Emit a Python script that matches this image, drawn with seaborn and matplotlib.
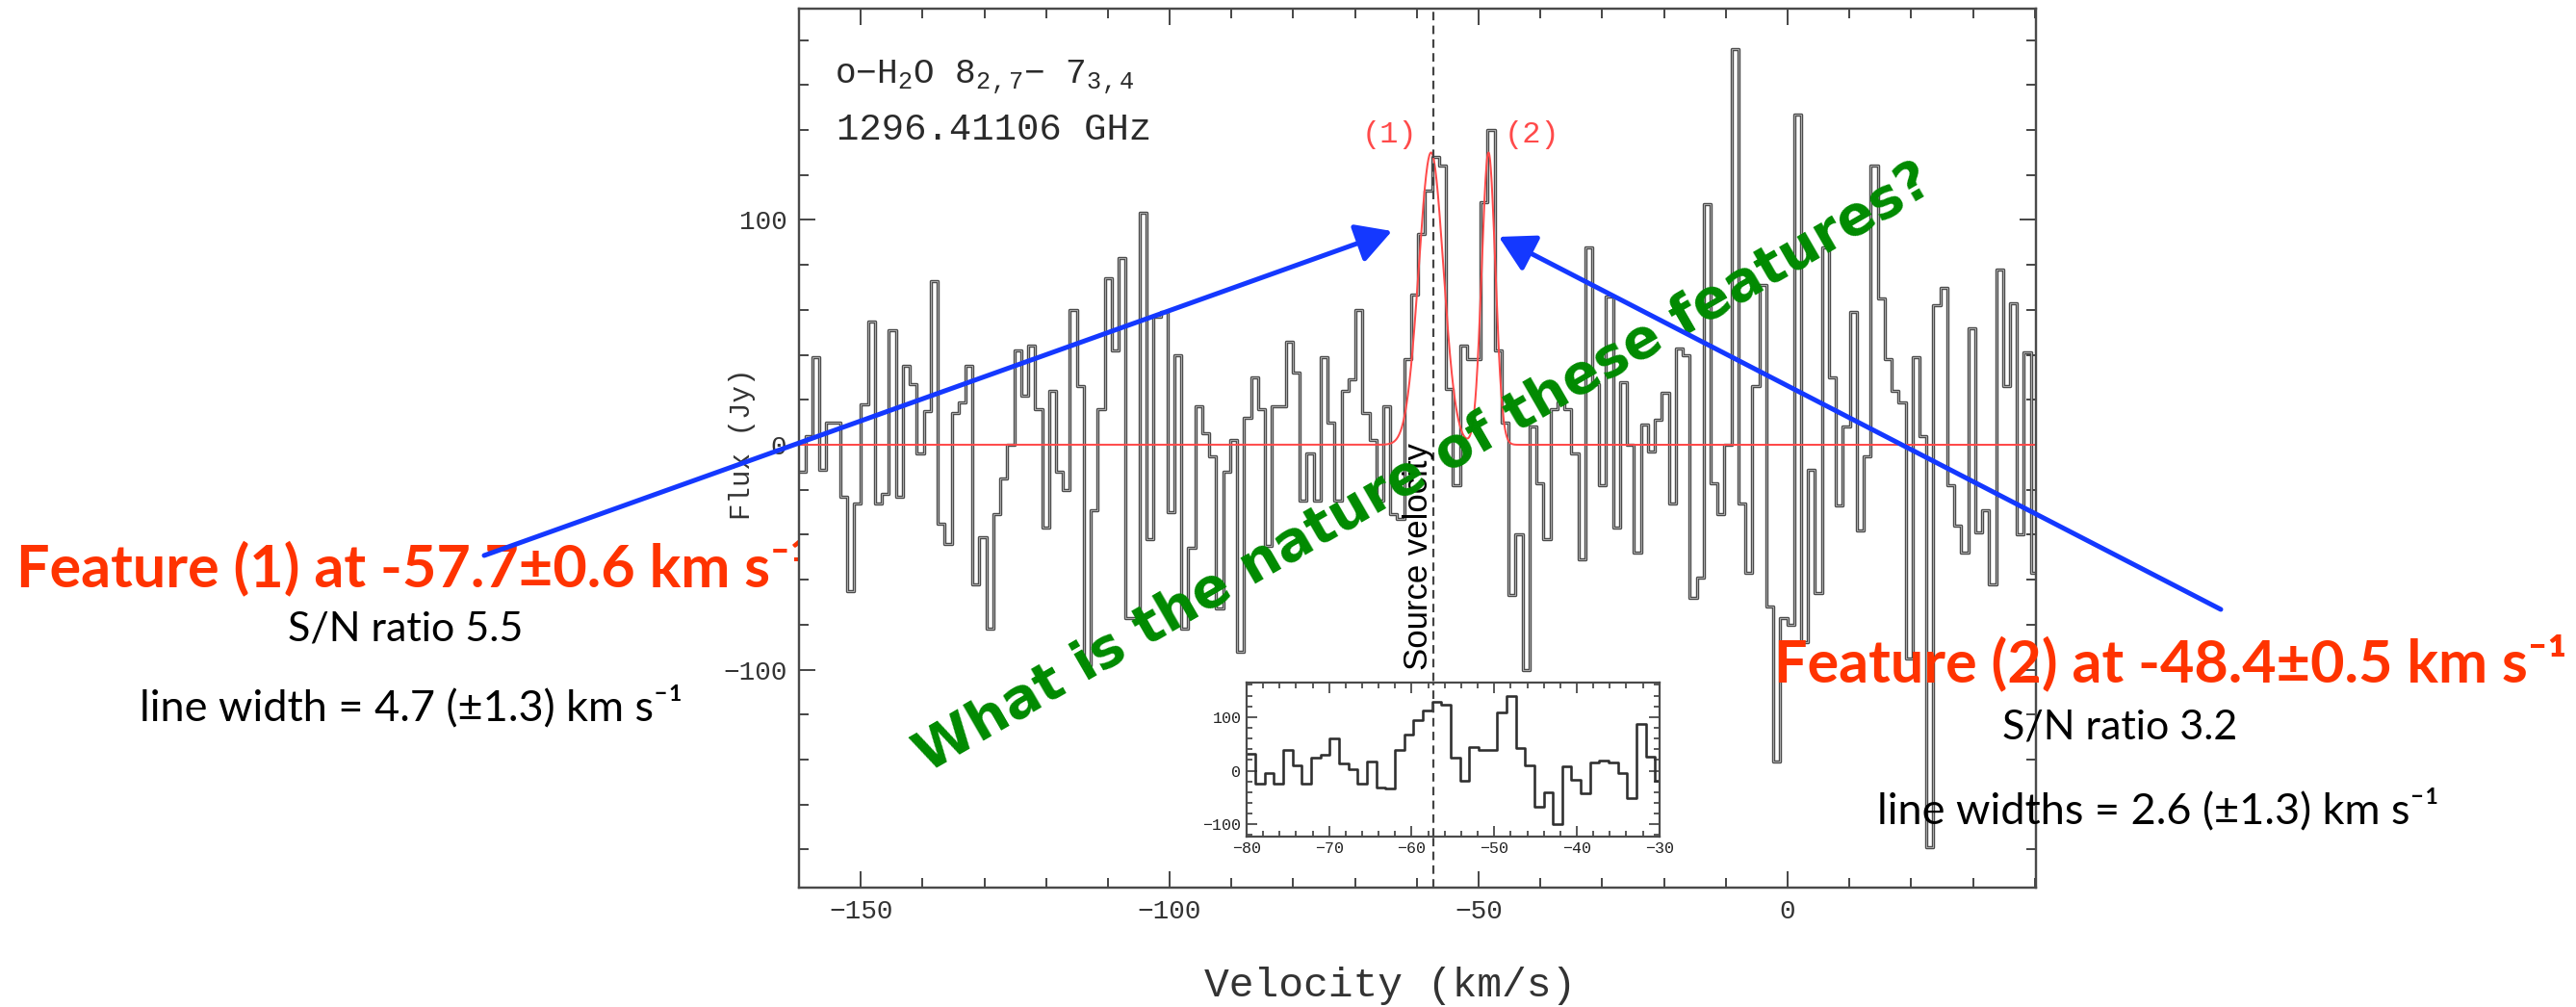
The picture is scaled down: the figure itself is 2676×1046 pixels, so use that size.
import numpy as np
import pandas as pd
import matplotlib
matplotlib.use("Agg")
import matplotlib.pyplot as plt
import matplotlib.patheffects as pe
import seaborn as sns
from matplotlib.ticker import MultipleLocator
from matplotlib.patches import FancyArrowPatch

# ---------------------------------------------------------------------------
# o-H2O 8(2,7)-7(3,4) spectrum: flux density (Jy) per velocity channel
# ---------------------------------------------------------------------------
chan_start = -160.1   # km/s, left edge of the first channel
chan_width = 1.127    # km/s
flux_jy = [
    -12, 4, 39, -11, 10, 10, -23, -65, -26, 18,
    55, -26, -22, 51, -23, 35, 27, -4, 15, 73,
    -35, -44, 14, 19, 35, -62, -41, -82, -31, -15,
    0, 42, 22, 44, 16, -37, 24, -12, -20, 60,
    26, -98, -29, 16, 74, 42, 83, -77, -77, 103,
    -42, 57, 59, -30, 40, -82, -46, 17, 5, -5,
    -73, -12, 2, -92, 12, 30, 16, -45, 17, 17,
    46, 32, -25, -4, -25, 39, 10, -25, 24, 29,
    60, 14, 2, -25, 17, -31, -33, 38, 67, 94,
    113, 128, 124, 25, -18, 44, 38, 38, 108, 140,
    42, 10, -67, -40, -100, 8, -17, -42, 16, 19,
    16, -4, -51, 88, 27, -18, 66, -37, 28, 0,
    -48, 9, -3, 11, 23, -26, 43, 40, -68, -59,
    107, -17, -31, 0, 176, -26, -57, 26, 71, -72,
    -141, -77, -80, 147, -88, -11, -66, 88, 30, -27,
    8, 59, -38, -5, 124, 65, 38, 24, 19, -95,
    39, 4, -179, 62, 70, -18, -36, -48, 52, -39,
    -29, -62, 78, 26, 63, -40, 41, -57,
]

# Two-component Gaussian fit (features 1 and 2)
line_center = [-57.7, -48.4]   # km/s
line_fwhm = [4.7, 2.6]         # km/s
line_peak = [130, 130]         # Jy

source_velocity = -57.4        # km/s

# ---------------------------------------------------------------------------
edges = chan_start + chan_width * np.arange(len(flux_jy) + 1)
spec = pd.DataFrame({"velocity": edges, "flux": flux_jy + [flux_jy[-1]]})

v_fit = np.linspace(-160, 40.2, 4001)
fit = np.zeros_like(v_fit)
for c, w, a in zip(line_center, line_fwhm, line_peak):
    fit += a * np.exp(-4 * np.log(2) * (v_fit - c) ** 2 / w ** 2)
model = pd.DataFrame({"velocity": v_fit, "flux": fit})

W, H, DPI = 2676, 1046, 100
PX = 72 / DPI  # points per pixel

sns.set_theme(style="ticks")
plt.rcParams["font.family"] = ["Liberation Mono", "DejaVu Sans"]
plt.rcParams["mathtext.fontset"] = "custom"
plt.rcParams["mathtext.rm"] = "Liberation Mono"
plt.rcParams["mathtext.it"] = "Liberation Mono"
plt.rcParams["axes.unicode_minus"] = True

fig = plt.figure(figsize=(W / DPI, H / DPI), dpi=DPI)
fig.patch.set_facecolor("white")


def fx(p):
    return p / W


def fy(p):
    return 1 - p / H


frame_col = "#4a4a4a"
fit_col = "#ff4a4a"
hollow = [pe.Stroke(linewidth=3.4 * PX, foreground="#474747"), pe.Normal()]

# ---------------------------------------------------------------------------
# Main spectrum
# ---------------------------------------------------------------------------
ax = fig.add_axes([fx(830), fy(922), fx(2115) - fx(830), fy(9) - fy(922)])
sns.lineplot(data=spec, x="velocity", y="flux", drawstyle="steps-post",
             estimator=None, sort=False, color="#a8a8a8", lw=1.1 * PX, ax=ax,
             path_effects=hollow)
sns.lineplot(data=model, x="velocity", y="flux", estimator=None, sort=False,
             color=fit_col, lw=2.0 * PX, ax=ax)
ax.axvline(source_velocity, color="#444444", lw=2.2 * PX, ls=(0, (4, 2.5)))

ax.set_xlim(-160, 40.2)
ax.set_ylim(-197, 194)
ax.xaxis.set_major_locator(MultipleLocator(50))
ax.xaxis.set_minor_locator(MultipleLocator(10))
ax.yaxis.set_major_locator(MultipleLocator(100))
ax.yaxis.set_minor_locator(MultipleLocator(20))
ax.tick_params(which="both", direction="in", top=True, right=True,
               color=frame_col, width=2 * PX, labelcolor="#333333")
ax.tick_params(which="major", length=17 * PX, labelsize=20, pad=9)
ax.tick_params(which="minor", length=10 * PX)
for s in ax.spines.values():
    s.set_color(frame_col)
    s.set_linewidth(2.4 * PX)

ax.set_xlabel("Velocity (km/s)", fontsize=31, color="#333333", va="center")
ax.xaxis.set_label_coords(0.478, -0.112)
ax.set_ylabel("Flux (Jy)", fontsize=21, color="#333333", va="center")
ax.yaxis.set_label_coords(-0.046, 0.505)

fig.text(fx(867), fy(80), r"o$-$H$_2$O 8$_{2,7}$$-$ 7$_{3,4}$", fontsize=26,
         color="#2a2a2a", ha="left", va="center")
fig.text(fx(869), fy(135), "1296.41106 GHz", fontsize=28, color="#2a2a2a",
         ha="left", va="center")

fig.text(fx(1444), fy(140), "(1)", fontsize=23, color=fit_col, ha="center", va="center")
fig.text(fx(1592), fy(140), "(2)", fontsize=23, color=fit_col, ha="center", va="center")

fig.text(fx(1474), fy(578), "Source velocity", fontsize=25, rotation=90,
         family=["Liberation Sans", "DejaVu Sans"], color="black",
         ha="center", va="center")

# ---------------------------------------------------------------------------
# Inset: close-up of the two features
# ---------------------------------------------------------------------------
ins = fig.add_axes([fx(1295), fy(868.5), fx(1723.7) - fx(1295), fy(708.7) - fy(868.5)])
ins.set_facecolor("white")
sns.lineplot(data=spec, x="velocity", y="flux", drawstyle="steps-post",
             estimator=None, sort=False, color="#2f2f2f", lw=2.6 * PX, ax=ins)
ins.axvline(source_velocity, color="#444444", lw=2.2 * PX, ls=(0, (4, 2.5)))
ins.set_xlim(-80, -30)
ins.set_ylim(-122, 165)
ins.xaxis.set_major_locator(MultipleLocator(10))
ins.xaxis.set_minor_locator(MultipleLocator(2))
ins.yaxis.set_major_locator(MultipleLocator(100))
ins.yaxis.set_minor_locator(MultipleLocator(20))
ins.tick_params(which="both", direction="in", top=True, right=True,
                color=frame_col, width=1.8 * PX, labelcolor="#222222")
ins.tick_params(which="major", length=11 * PX, labelsize=12, pad=4)
ins.tick_params(which="minor", length=6 * PX)
ins.set_xlabel("")
ins.set_ylabel("")
for s in ins.spines.values():
    s.set_color(frame_col)
    s.set_linewidth(2.2 * PX)

# ---------------------------------------------------------------------------
# Annotations
# ---------------------------------------------------------------------------
sans = ["Lato", "DejaVu Sans"]
feat_col = "#ff3300"

# drawn beneath the axes, so the plot frame covers its tail
fig.text(fx(17), fy(589), "Feature (1) at -57.7\u00b10.6 km s\u207b\u00b9",
         fontsize=44, fontweight="bold", family=sans, color=feat_col,
         ha="left", va="center", zorder=-1)
fig.text(fx(421), fy(654), "S/N ratio 5.5", fontsize=31, family=sans,
         color="black", ha="center", va="center")
fig.text(fx(427), fy(734), "line width = 4.7 (\u00b11.3) km s\u207b\u00b9",
         fontsize=32.5, family=sans, color="black", ha="center", va="center")

fig.text(fx(1843), fy(688), "Feature (2) at -48.4\u00b10.5 km s\u207b\u00b9",
         fontsize=44, fontweight="bold", family=sans, color=feat_col,
         ha="left", va="center", zorder=10)
fig.text(fx(2202), fy(756), "S/N ratio 3.2", fontsize=31, family=sans,
         color="black", ha="center", va="center", zorder=10)
fig.text(fx(1950), fy(841), "line widths = 2.6 (\u00b11.3) km s\u207b\u00b9",
         fontsize=32.5, family=sans, color="black", ha="left", va="center",
         zorder=10)

fig.text(fx(1480), fy(487), "What is the nature of these features?",
         fontsize=41, fontweight="bold", family=["DejaVu Sans"],
         color="#008a00", rotation=30, rotation_mode="anchor",
         ha="center", va="center", zorder=11)

arrow_col = "#1438ff"
for (x0, y0), (x1, y1) in [((503, 577), (1446, 240)), ((2307, 633), (1557, 246))]:
    arr = FancyArrowPatch((fx(x0), fy(y0)), (fx(x1), fy(y1)),
                          transform=fig.transFigure,
                          arrowstyle="-|>,head_length=0.75,head_width=0.42",
                          mutation_scale=30, lw=5 * PX, color=arrow_col,
                          shrinkA=0, shrinkB=0, zorder=12)
    fig.add_artist(arr)

fig.savefig("out.png", dpi=DPI, facecolor="white")
